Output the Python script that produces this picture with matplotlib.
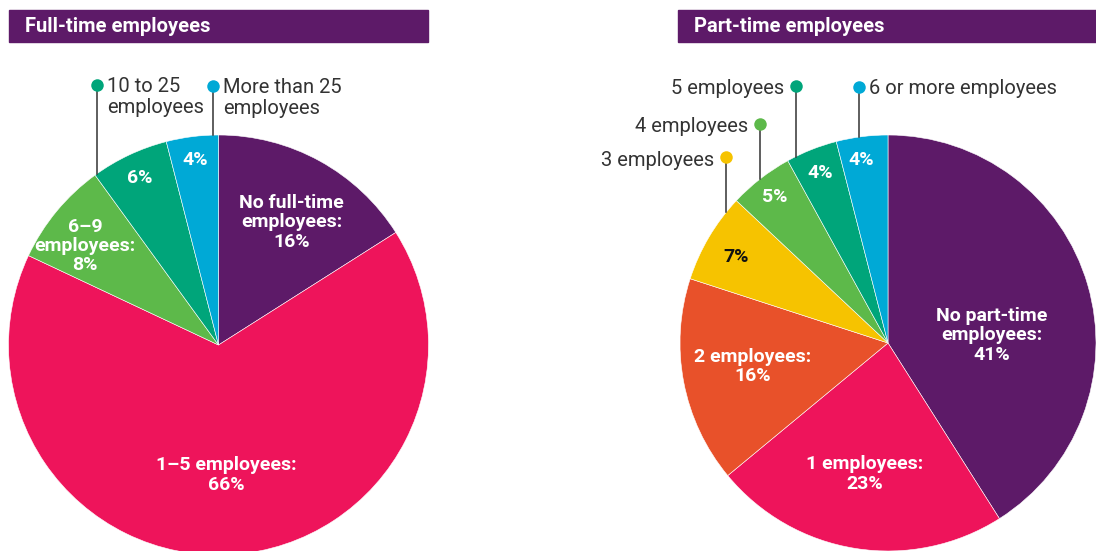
import numpy as np
import matplotlib.pyplot as plt
from matplotlib.patches import Rectangle

# data
ft_labels = ["No full-time\nemployees:", "1–5 employees:", "6–9\nemployees:", "", ""]
ft_values = [16, 66, 8, 6, 4]
ft_colors = ["#5D1A68", "#EE145B", "#5DB94A", "#00A57A", "#00A9D6"]

pt_labels = ["No part-time\nemployees:", "1 employees:", "2 employees:", "", "", "", ""]
pt_values = [41, 23, 16, 7, 5, 4, 4]
pt_colors = ["#5D1A68", "#EE145B", "#E8512A", "#F6C300", "#5DB94A", "#00A57A", "#00A9D6"]

# callouts: (slice index, text)
ft_callouts = [(3, "10 to 25\nemployees"), (4, "More than 25\nemployees")]
pt_callouts = [(3, "3 employees"), (4, "4 employees"), (5, "5 employees"), (6, "6 or more employees")]

W, H = 1096, 551
FONT = "Roboto"
PURPLE = "#5D1A68"


def Y(y):
    return H - y


fig = plt.figure(figsize=(W / 100, H / 100), dpi=100)
ax = fig.add_axes([0, 0, 1, 1])


def draw_pie(values, colors, labels, center, radius, lab_r, lab_shift, dark):
    wedges, _ = ax.pie(values, colors=colors, startangle=90, counterclock=False,
                       center=center, radius=radius,
                       wedgeprops=dict(edgecolor="white", linewidth=0.4))
    for i, w in enumerate(wedges):
        mid = np.deg2rad((w.theta1 + w.theta2) / 2 + lab_shift[i])
        x = center[0] + lab_r[i] * radius * np.cos(mid)
        y = center[1] + lab_r[i] * radius * np.sin(mid)
        txt = (labels[i] + "\n" if labels[i] else "") + f"{values[i]}%"
        ax.text(x, y, txt, ha="center", va="center", color="#111111" if i in dark else "white",
                fontsize=14, fontweight="bold", family=FONT, linespacing=1.1)
    return wedges


def callout(w, center, radius, frac, dot_y, text, side):
    th = np.deg2rad(w.theta1 + frac * (w.theta2 - w.theta1))
    x = center[0] + radius * np.cos(th)
    y = center[1] + radius * np.sin(th)
    ax.plot([x, x], [y, Y(dot_y)], color="#333333", lw=1.1, zorder=3)
    ax.plot([x], [Y(dot_y)], "o", color=w.get_facecolor(), ms=9, zorder=4, mec="none")
    if side == "right":
        ax.text(x + 10, Y(dot_y) + 8, text, ha="left", va="top", fontsize=14.5,
                family=FONT, fontweight="normal", color="#333333", linespacing=1.12)
    else:
        ax.text(x - 12, Y(dot_y) - 3, text, ha="right", va="center", fontsize=14.5,
                family=FONT, fontweight="normal", color="#333333")


# left pie
c1, r1 = (218.5, Y(345)), 210
w1 = draw_pie(ft_values, ft_colors, ft_labels, c1, r1,
              lab_r=[0.68, 0.62, 0.79, 0.88, 0.89], lab_shift=[-2, 0, 3, 0, 0], dark=[])
for (i, t), frac, dy in zip(ft_callouts, [0.97, 0.1], [85, 86]):
    callout(w1[i], c1, r1, frac, dy, t, "right")

# right pie
c2, r2 = (888, Y(343)), 208
w2 = draw_pie(pt_values, pt_colors, pt_labels, c2, r2,
              lab_r=[0.5, 0.64, 0.66, 0.84, 0.89, 0.88, 0.89], lab_shift=[-12, -1, -1, 1, 0, 0, 1], dark=[3])
for (i, t), frac, dy, side in zip(pt_callouts, [0.17, 0.51, 0.83, 0.55], [157, 124, 86, 87],
                                  ["left", "left", "left", "right"]):
    callout(w2[i], c2, r2, frac, dy, t, side)

# header bars
for x0, x1, title in [(9, 428, "Full-time employees"), (678, 1096, "Part-time employees")]:
    ax.add_patch(Rectangle((x0, Y(42)), x1 - x0, 32, color=PURPLE, zorder=1))
    ax.text(x0 + 16, Y(27), title, ha="left", va="center", color="white",
            fontsize=14.5, fontweight="bold", family=FONT)

ax.set_xlim(0, W)
ax.set_ylim(0, H)
ax.set_aspect("equal")
ax.axis("off")
fig.savefig("out.png", dpi=100)
